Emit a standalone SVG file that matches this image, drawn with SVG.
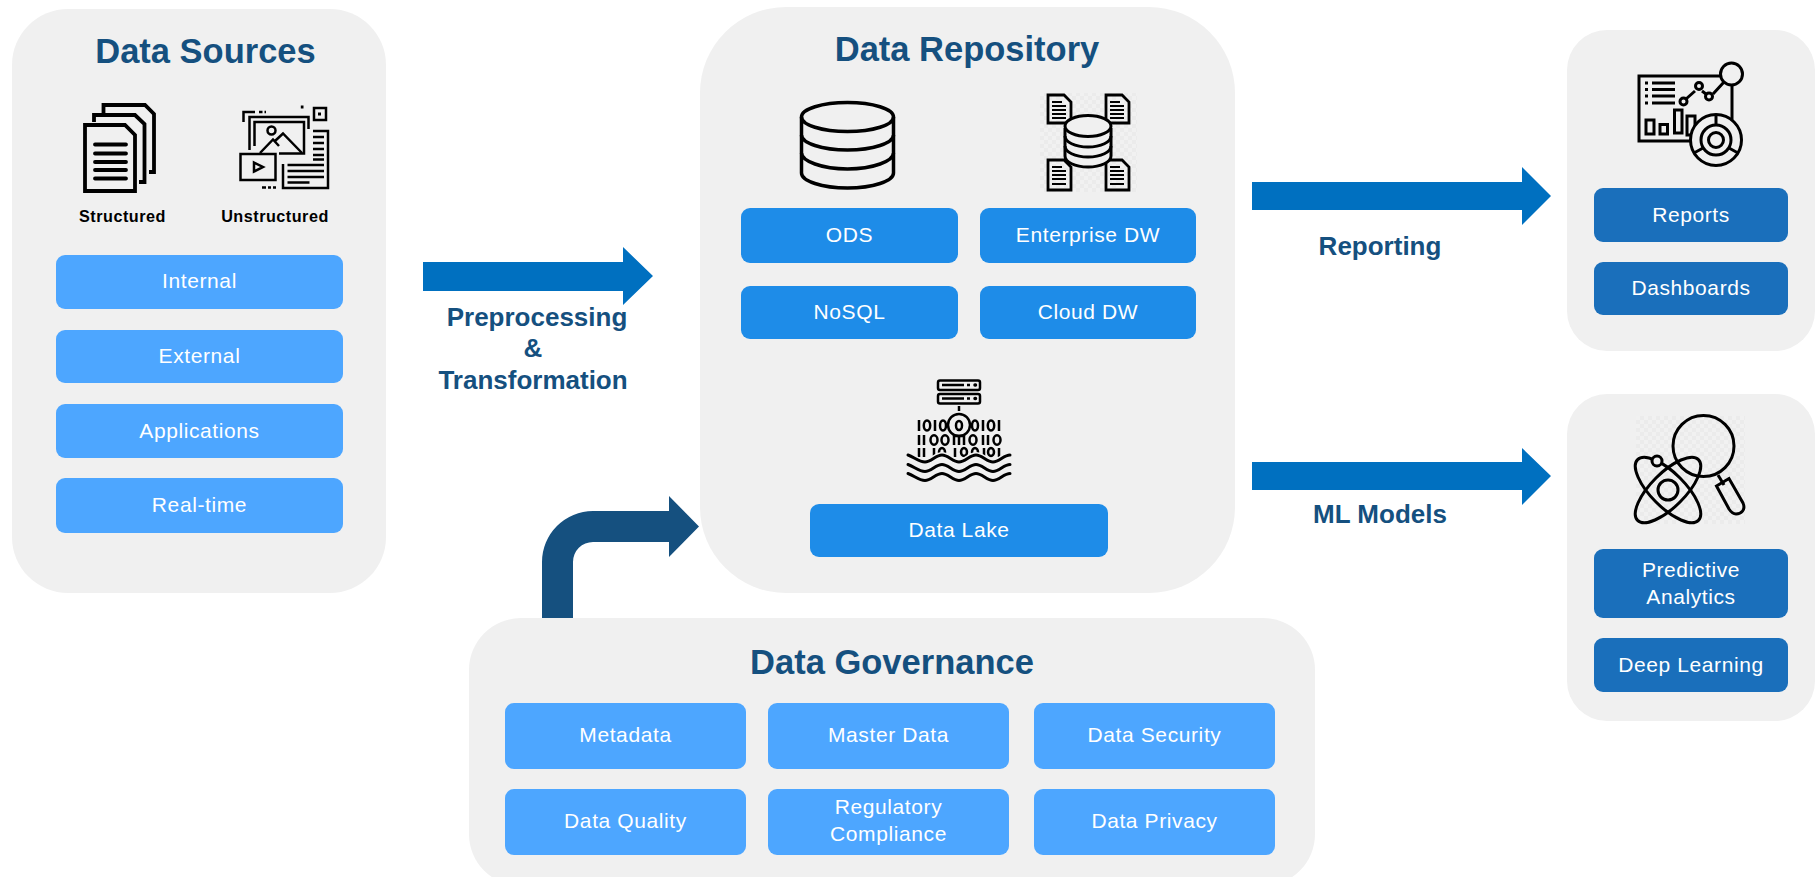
<svg xmlns="http://www.w3.org/2000/svg" width="1816" height="877" viewBox="0 0 1816 877">
<style>
.panel{fill:#f0f0f0}
.a{fill:#4da6ff}.b{fill:#1e8ce8}.c{fill:#1a6fbb}
.t{font-family:"Liberation Sans",Arial,sans-serif;font-size:21px;fill:#fff;text-anchor:middle;letter-spacing:.6px}
.h{font-family:"Liberation Sans",Arial,sans-serif;font-weight:700;font-size:34.500px;fill:#15507f;text-anchor:middle}
.l{font-family:"Liberation Sans",Arial,sans-serif;font-weight:700;font-size:26px;fill:#15507f;text-anchor:middle}
.s{font-family:"Liberation Sans",Arial,sans-serif;font-weight:700;font-size:16.200px;fill:#000;text-anchor:middle;letter-spacing:.5px}
.i{fill:none;stroke:#000;stroke-width:3}
.arrow{fill:#0070c0}
</style>
<defs>
<pattern id="chk" width="8" height="8" patternUnits="userSpaceOnUse"><rect width="8" height="8" fill="#f2f2f2"/><rect width="4" height="4" fill="#e9e9e9"/><rect x="4" y="4" width="4" height="4" fill="#e9e9e9"/></pattern>
</defs>

<g id="panels">
<rect class="panel" x="12" y="9" width="374" height="584" rx="56"/>
<rect class="panel" x="700" y="7" width="535" height="586" rx="86"/>
<rect class="panel" x="469" y="618" width="846" height="268" rx="52"/>
<rect class="panel" x="1567" y="30" width="248" height="321" rx="40"/>
<rect class="panel" x="1567" y="394" width="248" height="327" rx="40"/>
</g>

<g id="connectors">
<path class="arrow" d="M423,262H623V247L653,276L623,305V291H423Z"/>
<path class="arrow" d="M1252,182H1522V167L1551,196L1522,225V210H1252Z"/>
<path class="arrow" d="M1252,462H1522V448L1551,476L1522,505V490H1252Z"/>
<path fill="#15507f" d="M542,618V562A51,51 0 0 1 593,511H669V496L699,526.500L669,557V542H593A20,20 0 0 0 573,562V618Z"/>
</g>

<g id="data-sources">
<text class="h" x="205.500" y="63">Data Sources</text>
<g class="i" style="stroke-width:3.800">
<path d="M85,125H125L135,135V191H85Z"/>
<path d="M94,122V115H135L144.500,124V182H139"/>
<path d="M103.500,113V105H145L154,114V172H149"/>
<path d="M95,144.500H126M95,153.500H126M95,162H126M95,170H126M95,178.500H126" stroke-linecap="round"/>
</g>
<g class="i" style="stroke-width:2.500">
<path d="M243.500,122V112H255M259,112H262.500M264.500,112H266"/>
<rect x="314" y="108" width="12" height="12"/>
<path d="M318,114H321" style="stroke-width:3"/>
<path d="M300.800,107H303.500" style="stroke-width:3"/>
<path d="M249.500,150V117H308.500V129M254.500,146V122H304V153.500H279"/>
<path d="M313,131H328V188H283V164"/>
<path d="M313,137H324M313,143H324M313,149H324M313,155H324M313,159.500H324M287.500,165H324M287.500,171H324M287.500,177H324M287.500,182.500H309.500"/>
<rect x="240.500" y="154" width="35" height="26"/>
<path d="M254,162.500L263,167L254,171.500Z"/>
<path d="M260,153L273,139.500L279,146M275,141L283,133.500L302,153"/>
<circle cx="271.500" cy="130.500" r="4"/>
<path d="M262,187.500H266M268,187.500H271M273,187.500H276"/>
</g>
<text class="s" x="122.500" y="222">Structured</text>
<text class="s" x="275" y="222">Unstructured</text>
<rect class="a" x="56" y="255" width="287" height="54" rx="9"/><text class="t" x="199.500" y="288">Internal</text>
<rect class="a" x="56" y="330" width="287" height="53" rx="9"/><text class="t" x="199.500" y="363">External</text>
<rect class="a" x="56" y="404" width="287" height="54" rx="9"/><text class="t" x="199.500" y="438">Applications</text>
<rect class="a" x="56" y="478" width="287" height="55" rx="9"/><text class="t" x="199.500" y="512">Real-time</text>
</g>

<g id="data-repository">
<text class="h" x="967" y="61">Data Repository</text>
<g class="i" style="stroke-width:3.500">
<ellipse cx="847.500" cy="117" rx="46" ry="14.500"/>
<path d="M801.500,117V173C801.500,181 822,188 847.500,188S893.500,181 893.500,173V117"/>
<path d="M801.500,135C801.500,143 822,150 847.500,150S893.500,143 893.500,135M801.500,153C801.500,161 822,169 847.500,169S893.500,161 893.500,153"/>
</g>
<rect x="1040" y="93" width="97" height="99" fill="url(#chk)" opacity=".7"/>
<g class="i" style="stroke-width:2.800">
<path d="M1048,95H1064L1071,102V123H1048Z"/>
<path d="M1106,95H1122L1129,102V123H1106Z"/>
<path d="M1048,160H1064L1071,167V190H1048Z"/>
<path d="M1106,160H1122L1129,167V190H1106Z"/>
<path style="stroke-width:1.800" d="M1052,102H1062M1052,106H1066M1052,110H1066M1052,114H1066M1052,118H1066M1110,102H1120M1110,106H1124M1110,110H1124M1110,114H1124M1110,118H1124M1052,167H1062M1052,171H1066M1052,175H1066M1052,179H1066M1052,184H1066M1110,167H1120M1110,171H1124M1110,175H1124M1110,179H1124M1110,184H1124"/>
</g>
<g class="i" style="stroke-width:3">
<path d="M1065,128V156C1065,162 1075,167 1088,167S1111,162 1111,156V128" fill="#f0f0f0"/>
<ellipse cx="1088" cy="126" rx="23" ry="10.500" fill="#f0f0f0"/>
<path d="M1065,136C1065,142 1075,147 1088,147S1111,142 1111,136M1065,146C1065,152 1075,157 1088,157S1111,152 1111,146"/>
</g>
<rect class="b" x="741" y="208" width="217" height="55" rx="9"/><text class="t" x="849.500" y="242">ODS</text>
<rect class="b" x="980" y="208" width="216" height="55" rx="9"/><text class="t" x="1088" y="242">Enterprise DW</text>
<rect class="b" x="741" y="286" width="217" height="53" rx="9"/><text class="t" x="849.500" y="319">NoSQL</text>
<rect class="b" x="980" y="286" width="216" height="53" rx="9"/><text class="t" x="1088" y="319">Cloud DW</text>
<g class="i" style="stroke-width:2.500">
<rect x="938" y="380.500" width="42" height="9.500" rx="2"/>
<rect x="938" y="394" width="42" height="9.500" rx="2"/>
<path d="M942,385H964M967,385H970M942,398.500H964M967,398.500H970M959,406V411"/>
<path d="M975,385H975.500M975,398.500H975.500" stroke-linecap="round" style="stroke-width:3.500"/>
<circle cx="959" cy="425" r="11"/>
<ellipse cx="959" cy="425.500" rx="3" ry="4.500"/>
<path d="M919,420V431M935,420V431M983,420V431M999,420V431"/>
<ellipse cx="927" cy="425.500" rx="3.200" ry="5"/><ellipse cx="943" cy="425.500" rx="3" ry="5"/><ellipse cx="975" cy="425.500" rx="3" ry="5"/><ellipse cx="991" cy="425.500" rx="3.200" ry="5"/>
<path d="M919,435V445M924,435V445M983,435V445M988,435V445"/>
<ellipse cx="934" cy="440" rx="3.500" ry="4.700"/><ellipse cx="945" cy="440" rx="3.500" ry="4.700"/><ellipse cx="973" cy="440" rx="3.500" ry="4.700"/><ellipse cx="997" cy="440" rx="3.500" ry="4.700"/>
<path d="M954,445V436H964V445M959,436V445"/>
<path d="M919,448V457M924,448V457M934,448V457M955,448V457M984,448V457M999,448V457"/>
<ellipse cx="942" cy="452" rx="3" ry="4"/><ellipse cx="964" cy="452" rx="3" ry="4"/><ellipse cx="975" cy="452" rx="3" ry="4"/><ellipse cx="991" cy="452" rx="3" ry="4"/>
</g>
<path fill="none" stroke="#f0f0f0" stroke-width="6" d="M908,455c6,2 11,7 17,7s11,-7 17,-7s11,7 17,7s11,-7 17,-7s11,7 17,7s11,-7 17,-7"/>
<g class="i" style="stroke-width:3" stroke-linecap="round">
<path d="M908,455c6,2 11,7 17,7s11,-7 17,-7s11,7 17,7s11,-7 17,-7s11,7 17,7s11,-7 17,-7"/>
<path d="M908,464.500c6,2 11,7 17,7s11,-7 17,-7s11,7 17,7s11,-7 17,-7s11,7 17,7s11,-7 17,-7"/>
<path d="M908,473.500c6,2 11,7 17,7s11,-7 17,-7s11,7 17,7s11,-7 17,-7s11,7 17,7s11,-7 17,-7"/>
</g>
<rect class="b" x="810" y="504" width="298" height="53" rx="9"/><text class="t" x="959" y="537">Data Lake</text>
</g>

<g id="data-governance">
<text class="h" x="892" y="674">Data Governance</text>
<rect class="a" x="505" y="703" width="241" height="66" rx="9"/><text class="t" x="625.500" y="742">Metadata</text>
<rect class="a" x="768" y="703" width="241" height="66" rx="9"/><text class="t" x="888.500" y="742">Master Data</text>
<rect class="a" x="1034" y="703" width="241" height="66" rx="9"/><text class="t" x="1154.500" y="742">Data Security</text>
<rect class="a" x="505" y="789" width="241" height="66" rx="9"/><text class="t" x="625.500" y="828">Data Quality</text>
<rect class="a" x="768" y="789" width="241" height="66" rx="9"/><text class="t" x="888.500" y="814">Regulatory</text><text class="t" x="888.500" y="841">Compliance</text>
<rect class="a" x="1034" y="789" width="241" height="66" rx="9"/><text class="t" x="1154.500" y="828">Data Privacy</text>
</g>

<g id="reporting">
<g class="i" style="stroke-width:3">
<rect x="1639" y="76" width="93" height="65"/>
<path d="M1645,83H1648M1645,89.500H1648M1645,96H1648M1645,103H1648M1652,83H1675M1652,89.500H1675M1652,96H1675M1652,103H1675"/>
<rect x="1646" y="120" width="8" height="14"/><rect x="1660" y="124.500" width="7.500" height="9.500"/><rect x="1674.500" y="110" width="7.500" height="23"/><rect x="1687" y="116" width="8" height="19"/>
<path d="M1686,99L1695,91M1702,91L1706,94M1713,94L1724,82"/>
<circle cx="1683.500" cy="101.500" r="3.500"/><circle cx="1699" cy="86" r="3.500"/><circle cx="1709" cy="96.500" r="3.500"/>
<circle cx="1731.500" cy="74" r="11" fill="#f0f0f0"/>
<circle cx="1716" cy="140" r="25.500" fill="#f0f0f0"/>
<circle cx="1716" cy="140" r="15"/><circle cx="1716" cy="140" r="7.500"/>
<path d="M1716,115V125M1703,148L1694,153M1729,148L1738,153"/>
</g>
<rect class="c" x="1594" y="188" width="194" height="54" rx="9"/><text class="t" x="1691" y="222">Reports</text>
<rect class="c" x="1594" y="262" width="194" height="53" rx="9"/><text class="t" x="1691" y="295">Dashboards</text>
</g>

<g id="ml-models">
<rect x="1636" y="416" width="109" height="108" fill="url(#chk)" opacity=".7"/>
<g class="i" style="stroke-width:3">
<circle cx="1703.500" cy="446" r="30.500"/>
<path d="M1718,475L1724,485"/>
<path d="M1716.500,486L1729,478.500L1743,503C1746,510 1741,514 1736,514C1733,514 1731,512 1729,509Z"/>
<ellipse cx="1668" cy="490" rx="43" ry="17" transform="rotate(45 1668 490)"/>
<ellipse cx="1668" cy="490" rx="43" ry="17" transform="rotate(-45 1668 490)"/>
<circle cx="1668" cy="490" r="10"/>
<circle cx="1657" cy="461" r="5" fill="#f0f0f0"/>
</g>
<rect class="c" x="1594" y="549" width="194" height="69" rx="9"/><text class="t" x="1691" y="577">Predictive</text><text class="t" x="1691" y="604">Analytics</text>
<rect class="c" x="1594" y="638" width="194" height="54" rx="9"/><text class="t" x="1691" y="672">Deep Learning</text>
</g>

<g id="labels">
<text class="l" x="537" y="326">Preprocessing</text>
<text class="l" x="533" y="357">&amp;</text>
<text class="l" x="533" y="389">Transformation</text>
<text class="l" x="1380" y="255">Reporting</text>
<text class="l" x="1380" y="523">ML Models</text>
</g>
</svg>
